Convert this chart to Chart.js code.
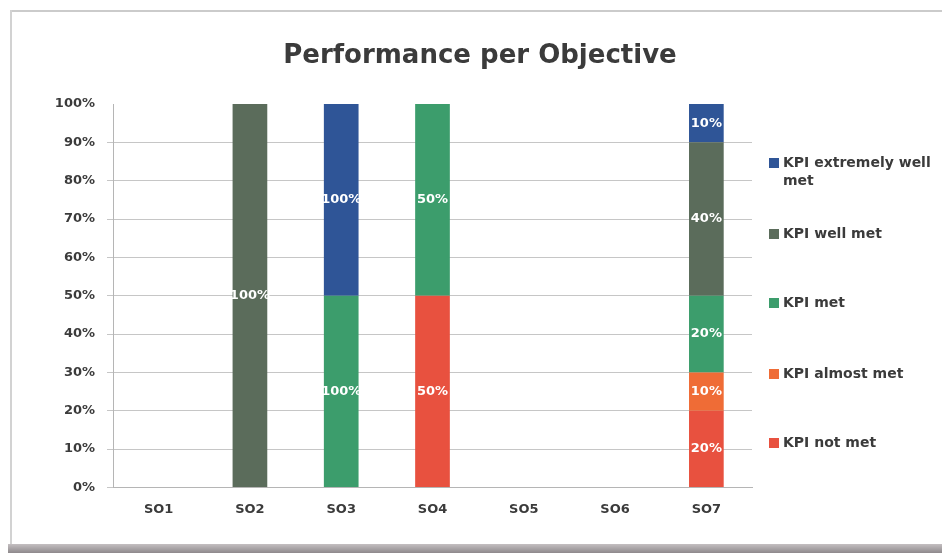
<!DOCTYPE html>
<html>
<head>
<meta charset="utf-8">
<title>Performance per Objective</title>
<script src="https://cdn.jsdelivr.net/npm/chart.js@4/dist/chart.umd.min.js"></script>
<style>
    html, body { margin: 0; padding: 0; background: #fff; overflow: hidden; }
    #wrap { position: relative; width: 942px; height: 553px; overflow: hidden; background: #fff; }
    .frame-top { position: absolute; left: 11px; top: 10px; right: 0; border-top: 2px solid #cbcbcb; }
    .frame-left { position: absolute; left: 10px; top: 10px; bottom: 8px; border-left: 2px solid #d2d2d2; }
    .frame-bottom { position: absolute; left: 8px; right: 0; bottom: 0; height: 9px; background: linear-gradient(#c4bfc1, #8e898c); }
    #chart { position: absolute; left: 0; top: 0; }
</style>
</head>
<body>
<div id="wrap">
    <div class="frame-top"></div>
    <div class="frame-left"></div>
    <div class="frame-bottom"></div>
    <canvas id="chart" width="942" height="553"></canvas>
</div>
<script>
// categories (objectives)
const categories = ['SO1', 'SO2', 'SO3', 'SO4', 'SO5', 'SO6', 'SO7'];

// values as shown in the data labels (%)
const kpiNotMet           = [0, 0, 0,   50, 0, 0, 20];
const kpiAlmostMet        = [0, 0, 0,   0,  0, 0, 10];
const kpiMet              = [0, 0, 100, 50, 0, 0, 20];
const kpiWellMet          = [0, 100, 0, 0,  0, 0, 40];
const kpiExtremelyWellMet = [0, 0, 100, 0,  0, 0, 10];

const seriesNames = ['KPI not met', 'KPI almost met', 'KPI met', 'KPI well met', 'KPI extremely well met'];
const seriesColors = ['#e8513f', '#ef6c36', '#3c9d6c', '#5b6c5b', '#2f5597'];

const rawSeries = [kpiNotMet, kpiAlmostMet, kpiMet, kpiWellMet, kpiExtremelyWellMet];

// 100% stacked: each column is scaled to its own total
const columnTotals = categories.map((c, j) => rawSeries.reduce((s, arr) => s + arr[j], 0));
function toShare(arr) {
    return arr.map((v, j) => columnTotals[j] ? v / columnTotals[j] * 100 : 0);
}

const FONT = '"DejaVu Sans", Verdana, sans-serif';
const TEXT = '#3b3b3b';

// labels in the middle of each segment
const segmentLabels = {
    id: 'segmentLabels',
    afterDatasetsDraw(chart) {
        const ctx = chart.ctx;
        ctx.save();
        ctx.font = 'bold 13px ' + FONT;
        ctx.fillStyle = '#ffffff';
        ctx.textAlign = 'center';
        ctx.textBaseline = 'middle';
        chart.data.datasets.forEach((ds, i) => {
            const meta = chart.getDatasetMeta(i);
            meta.data.forEach((bar, j) => {
                const v = rawSeries[i][j];
                if (!v) return;
                const p = bar.getProps(['x', 'y', 'base'], true);
                ctx.fillText(v + '%', p.x, (p.y + p.base) / 2);
            });
        });
        ctx.restore();
    }
};

// title + legend on the right, drawn by hand so they sit like the original
const titleAndLegend = {
    id: 'titleAndLegend',
    afterDraw(chart) {
        const ctx = chart.ctx;
        ctx.save();
        ctx.fillStyle = TEXT;
        ctx.font = 'bold 26px ' + FONT;
        ctx.textAlign = 'center';
        ctx.textBaseline = 'alphabetic';
        ctx.fillText('Performance per Objective', 480, 63);

        // legend, reversed (top = extremely well met)
        const itemY = [172, 234, 303, 374, 443];
        const x0 = chart.chartArea.right + 17;
        ctx.font = 'bold 14px ' + FONT;
        ctx.textAlign = 'left';
        ctx.textBaseline = 'middle';
        const order = [4, 3, 2, 1, 0];
        order.forEach((si, k) => {
            const lines = wrapText(ctx, seriesNames[si], 160);
            const lh = 18;
            const top = itemY[k] - (lines.length - 1) * lh / 2;
            ctx.fillStyle = seriesColors[si];
            ctx.fillRect(x0, top - 5, 10, 10);
            ctx.fillStyle = TEXT;
            lines.forEach((ln, n) => ctx.fillText(ln, x0 + 14, top + n * lh));
        });
        ctx.restore();
    }
};

function wrapText(ctx, text, maxW) {
    const words = text.split(' ');
    const lines = [];
    let cur = '';
    words.forEach(w => {
        const test = cur ? cur + ' ' + w : w;
        if (ctx.measureText(test).width > maxW && cur) {
            lines.push(cur);
            cur = w;
        } else {
            cur = test;
        }
    });
    if (cur) lines.push(cur);
    return lines;
}

new Chart(document.getElementById('chart'), {
    type: 'bar',
    data: {
        labels: categories,
        datasets: rawSeries.map((arr, i) => ({
            label: seriesNames[i],
            data: toShare(arr),
            backgroundColor: seriesColors[i],
            borderWidth: 0,
            barPercentage: 1,
            categoryPercentage: 0.38
        }))
    },
    options: {
        responsive: false,
        animation: false,
        layout: {
            padding: { left: 14, right: 190, top: 104, bottom: 22 }
        },
        plugins: {
            legend: { display: false },
            title: { display: false },
            tooltip: { enabled: false }
        },
        scales: {
            x: {
                stacked: true,
                grid: { display: false, drawTicks: false },
                border: { display: true, color: '#b5b5b5' },
                ticks: {
                    padding: 14,
                    color: TEXT,
                    font: { family: FONT, size: 13, weight: 'bold' }
                }
            },
            y: {
                stacked: true,
                min: 0,
                max: 100,
                afterFit(scale) { scale.width = 99; },
                grid: {
                    color: ctx => ctx.tick && ctx.tick.value === 100 ? 'rgba(0,0,0,0)' : '#c6c6c6',
                    tickLength: 6
                },
                border: { display: true, color: '#b5b5b5' },
                ticks: {
                    stepSize: 10,
                    padding: 12,
                    color: TEXT,
                    font: { family: FONT, size: 13, weight: 'bold' },
                    callback: v => v + '%'
                }
            }
        }
    },
    plugins: [segmentLabels, titleAndLegend]
});
</script>
</body>
</html>
